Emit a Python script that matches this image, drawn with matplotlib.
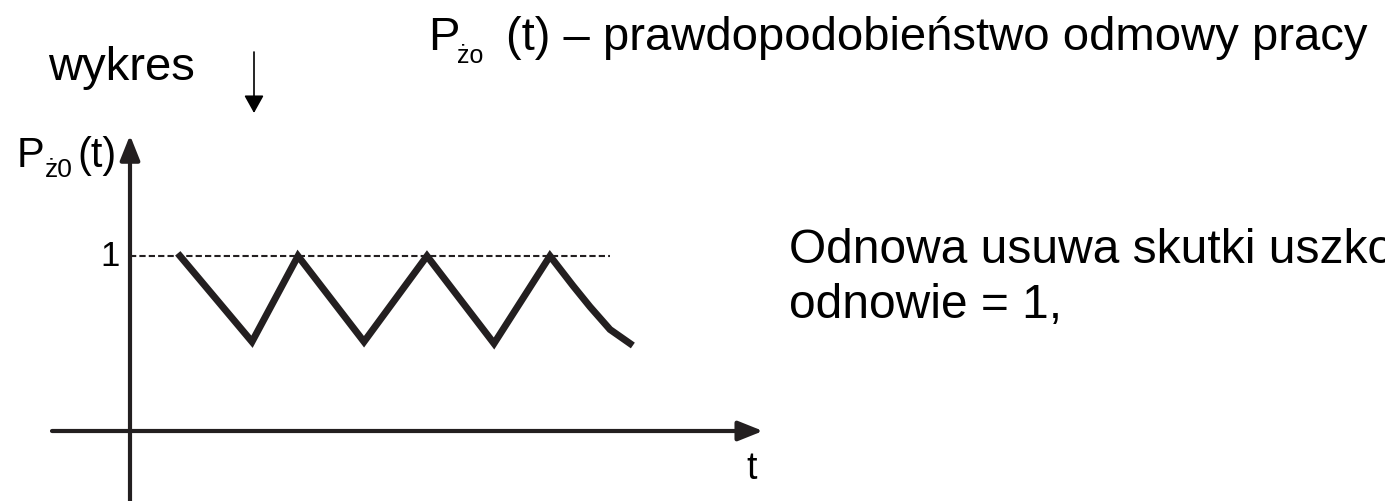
import matplotlib
matplotlib.use("Agg")
import matplotlib.pyplot as plt
from matplotlib.patches import ArrowStyle

plt.rcParams['font.family'] = ['Liberation Sans', 'DejaVu Sans']

# ---------- Dane ----------
t_vals = [0.5, 1.22, 1.68, 2.34, 2.97, 3.64, 4.2, 4.43, 4.6, 4.8, 5.0]
p_vals = [1.0, 0.51, 1.0, 0.51, 1.0, 0.50, 1.0, 0.83, 0.71, 0.58, 0.50]
poziom_1 = 1.0
t_kres = 4.8          # koniec linii przerywanej

tytul = '(t) – prawdopodobieństwo odmowy pracy'
opis_1 = 'Odnowa usuwa skutki uszkodzenia, prawdopodobieństwo po'
opis_2 = 'odnowie = 1,'

W, H = 1385, 502
KOLOR = '#231f20'


def px(x, y):
    # piksele (od lewego górnego rogu) -> ułamek figury
    return x / W, 1 - y / H


fig = plt.figure(figsize=(W / 100, H / 100), dpi=100)
ax = fig.add_axes([0, 0, 1, 1])
ax.set_xlim(-1.30, (W - 130) / 100)
ax.set_ylim(-70 / 175, (H - 70) / 175)
ax.axis('off')

styl = ArrowStyle('-|>', head_length=1.0, head_width=0.4)

# osie
ax.annotate('', xy=(0, 1.69), xytext=(0, -0.45),
            arrowprops=dict(arrowstyle=styl, mutation_scale=15, lw=3, color=KOLOR,
                            shrinkA=0, shrinkB=0))
ax.annotate('', xy=(6.33, 0), xytext=(-0.78, 0),
            arrowprops=dict(arrowstyle=styl, mutation_scale=15, lw=3, color=KOLOR,
                            shrinkA=0, shrinkB=0))

# poziom 1 i przebieg
ax.plot([0, t_kres], [poziom_1, poziom_1], ls=(0, (3, 1.5)), lw=1.5, color=KOLOR)
ax.plot(t_vals, p_vals, lw=5, color=KOLOR, solid_joinstyle='miter')

ax.text(-0.10, poziom_1, '1', ha='right', va='center', fontsize=25)
ax.text(6.22, -0.27, 't', ha='center', va='baseline', fontsize=27)

# etykieta osi Y
fig.text(*px(17, 167), 'P', fontsize=30, va='baseline')
fig.text(*px(45, 177), 'ż0', fontsize=19, va='baseline')
fig.text(*px(77, 167), '(t)', fontsize=30, va='baseline')

# tytuł
fig.text(*px(428, 50), 'P', fontsize=34, va='baseline')
fig.text(*px(457, 63), 'żo', fontsize=18, va='baseline')
fig.text(*px(506, 50), tytul, fontsize=34, va='baseline')

fig.text(*px(48, 80), 'wykres', fontsize=34, va='baseline')
fig.text(*px(789, 263), opis_1, fontsize=34.5, va='baseline')
fig.text(*px(789, 318), opis_2, fontsize=34.5, va='baseline')

# strzałka "wykres"
fig.add_artist(plt.Annotation('', xy=px(254, 114), xytext=px(254, 53),
                              xycoords='figure fraction', textcoords='figure fraction',
                              arrowprops=dict(arrowstyle=ArrowStyle('-|>', head_length=0.9, head_width=0.5),
                                              mutation_scale=12, lw=1.2, color='black',
                                              shrinkA=0, shrinkB=0)))

fig.savefig('out.png', dpi=100)
